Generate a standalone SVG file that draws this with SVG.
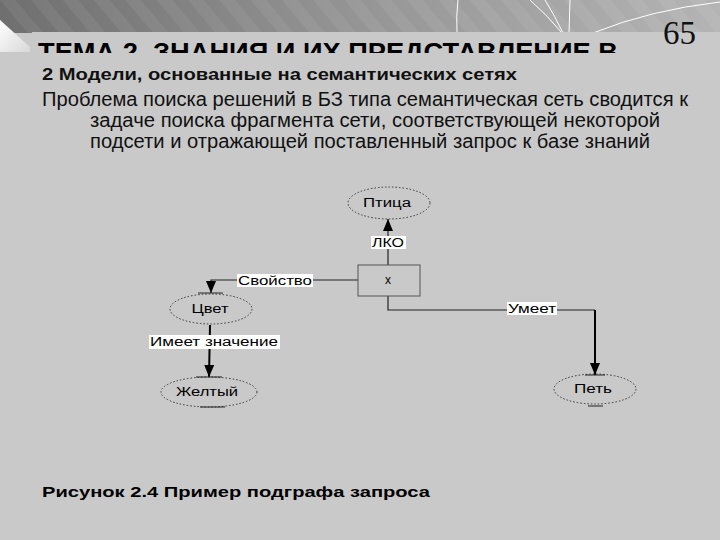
<svg xmlns="http://www.w3.org/2000/svg" width="720" height="540" viewBox="0 0 720 540">
<defs>
<linearGradient id="hdr" x1="0" y1="0" x2="1" y2="0">
<stop offset="0" stop-color="#6f6f6f"/>
<stop offset="0.5" stop-color="#959595"/>
<stop offset="1" stop-color="#b4b4b4"/>
</linearGradient>
<pattern id="stripes" width="24" height="24" patternUnits="userSpaceOnUse" patternTransform="rotate(-40)">
<rect width="12" height="24" fill="#ffffff" opacity="0.06"/>
</pattern>
<linearGradient id="tri" x1="0" y1="0" x2="1" y2="1">
<stop offset="0" stop-color="#ffffff"/>
<stop offset="1" stop-color="#d8d8d8"/>
</linearGradient>
<marker id="arr" markerWidth="12" markerHeight="10" refX="12" refY="5" orient="auto" markerUnits="userSpaceOnUse" viewBox="0 0 12 10">
<path d="M0,0 L12,5 L0,10 Z" fill="#000"/>
</marker>
</defs>
<style>
.node ellipse{fill:none;stroke:#333;stroke-width:1;stroke-dasharray:1.5 2}
.nt{font-family:"Liberation Sans",Arial,sans-serif;font-size:12px;fill:#000;text-anchor:middle}
.lbl{fill:#fff}
.conn{fill:none;stroke:#222;stroke-width:1.2}
.thick{stroke:#000;stroke-width:2}
.body{font-family:"Liberation Sans",Arial,sans-serif;fill:#111}
</style>
<rect width="720" height="540" fill="#c9c9c9"/>
<rect width="720" height="33" fill="url(#hdr)"/>
<rect width="720" height="33" fill="url(#stripes)"/>
<g fill="none" stroke="#ffffff" stroke-width="1">
<path d="M458,0 Q456,16 457,33"/>
<path d="M530,0 Q548,16 562,33"/>
<path d="M545,0 Q555,16 563,33"/>
<path d="M570,0 L569,33"/>
<path d="M593,33 Q650,10 720,2"/>
<path d="M695,48 L720,48"/>
</g>
<polygon points="0,20 30,47 30,52 0,52" fill="url(#tri)"/>
<rect x="32" y="32" width="688" height="22" fill="#c9c9c9"/>
<text x="38" y="61" font-family="Liberation Sans,Arial,sans-serif" font-weight="bold" font-size="25" textLength="580" lengthAdjust="spacingAndGlyphs" fill="#000">ТЕМА 2. ЗНАНИЯ И ИХ ПРЕДСТАВЛЕНИЕ В</text>
<rect x="0" y="53" width="720" height="487" fill="#c9c9c9"/>
<text x="663" y="44" font-family="Liberation Serif,Times New Roman,serif" font-size="33" fill="#111">65</text>
<text class="body" x="42" y="80" font-weight="bold" font-size="16" textLength="475" lengthAdjust="spacingAndGlyphs">2 Модели, основанные на семантических сетях</text>
<text class="body" x="42" y="106" font-size="20" textLength="646" lengthAdjust="spacingAndGlyphs">Проблема поиска решений в БЗ типа семантическая сеть сводится к</text>
<text class="body" x="90" y="127" font-size="20" textLength="570" lengthAdjust="spacingAndGlyphs">задаче поиска фрагмента сети, соответствующей некоторой</text>
<text class="body" x="90" y="148" font-size="20" textLength="560" lengthAdjust="spacingAndGlyphs">подсети и отражающей поставленный запрос к базе знаний</text>

<g id="connectors">
<path class="conn" d="M388,265 L388,219" marker-end="url(#arr)"/>
<rect class="lbl" x="371" y="236" width="35" height="13"/>
<text class="nt" x="388" y="247" textLength="32" lengthAdjust="spacingAndGlyphs">ЛКО</text>
<path class="conn" d="M358,280 L211,280 L211,293" marker-end="url(#arr)"/>
<rect class="lbl" x="237" y="274" width="76" height="13"/>
<text class="nt" x="275" y="285" textLength="74" lengthAdjust="spacingAndGlyphs">Свойство</text>
<path class="conn thick" d="M210,325 L209,377" marker-end="url(#arr)"/>
<rect class="lbl" x="149" y="335" width="131" height="14"/>
<text class="nt" x="214" y="346" textLength="128" lengthAdjust="spacingAndGlyphs">Имеет значение</text>
<path class="conn" d="M388,296 L388,310 L595,310"/>
<path class="conn thick" d="M595,310 L595,375" marker-end="url(#arr)"/>
<rect class="lbl" x="507" y="302" width="50" height="13"/>
<text class="nt" x="532" y="313" textLength="48" lengthAdjust="spacingAndGlyphs">Умеет</text>
</g>

<g id="ptica" class="node"><ellipse cx="389" cy="203" rx="41" ry="16"/><text class="nt" x="387" y="207" textLength="48" lengthAdjust="spacingAndGlyphs">Птица</text></g>
<g id="x" class="node"><rect x="358" y="265" width="62" height="31" fill="none" stroke="#555" stroke-width="1"/><text class="nt" x="388" y="284" font-size="13">x</text></g>
<g id="cvet" class="node"><ellipse cx="211" cy="309" rx="41" ry="15"/><line x1="198" y1="293" x2="223" y2="293" stroke="#222"/><text class="nt" x="210" y="313" textLength="37" lengthAdjust="spacingAndGlyphs">Цвет</text></g>
<g id="zheltyj" class="node"><ellipse cx="209" cy="392" rx="48" ry="15"/><line x1="196" y1="377" x2="222" y2="377" stroke="#222"/><line x1="200" y1="407" x2="225" y2="407" stroke="#222"/><text class="nt" x="207" y="396" textLength="62" lengthAdjust="spacingAndGlyphs">Желтый</text></g>
<g id="pet" class="node"><ellipse cx="595" cy="389" rx="41" ry="15"/><line x1="585" y1="375" x2="605" y2="375" stroke="#222"/><line x1="588" y1="406" x2="603" y2="406" stroke="#222"/><text class="nt" x="593" y="393" textLength="38" lengthAdjust="spacingAndGlyphs">Петь</text></g>

<text x="42" y="497" font-family="Liberation Sans,Arial,sans-serif" font-weight="bold" font-size="15" textLength="388" lengthAdjust="spacingAndGlyphs" fill="#000">Рисунок 2.4 Пример подграфа запроса</text>
</svg>
